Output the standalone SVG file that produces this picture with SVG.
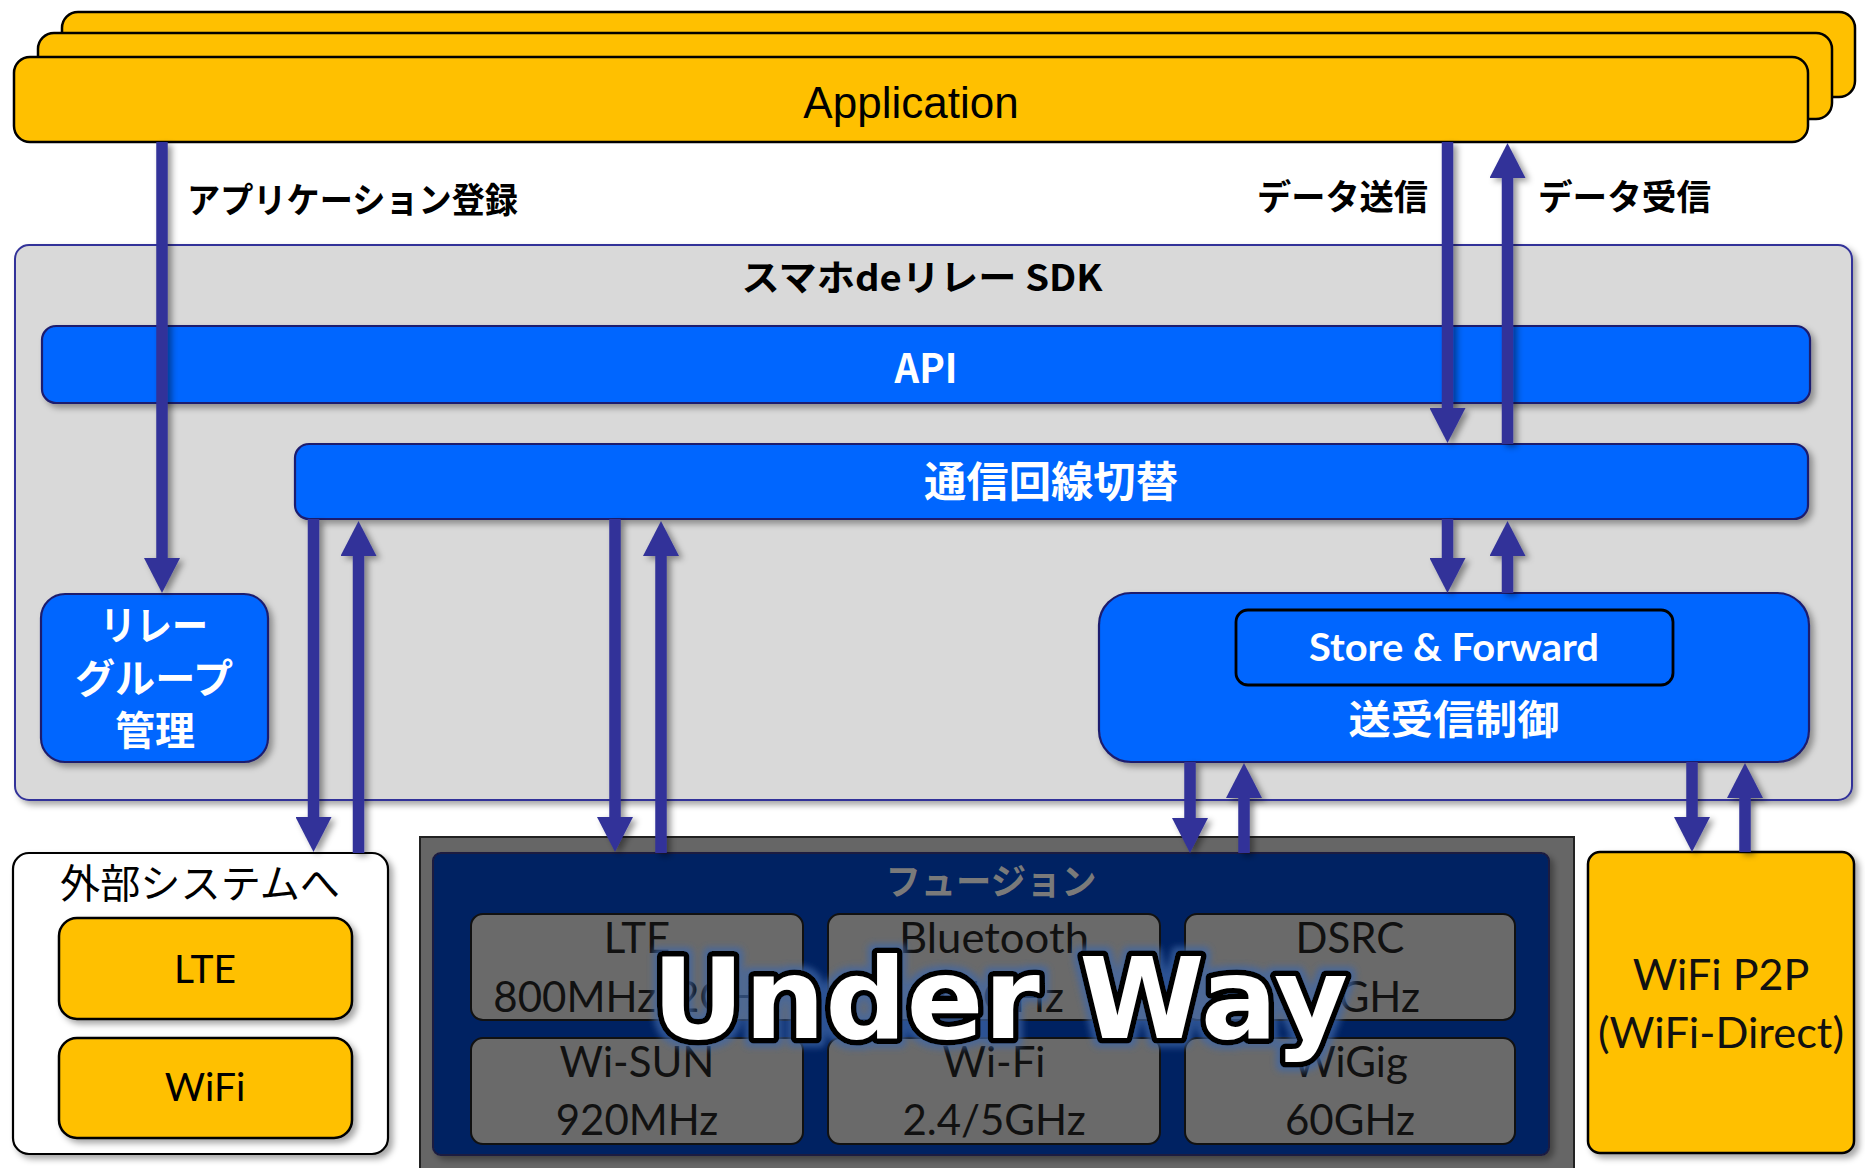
<svg xmlns="http://www.w3.org/2000/svg" width="1865" height="1168" viewBox="0 0 1865 1168">
<style>
.org{fill:#FFC000;stroke:#000;stroke-width:2.5}
.blu{fill:#0066FF;stroke:#1E1E6E;stroke-width:2.2}
.cell{fill:#6A6A6A;stroke:#111;stroke-width:2}
.jp{font-family:"Noto Sans CJK JP",sans-serif}
.lat{font-family:Lato,"Open Sans",sans-serif}
.wb{fill:#fff;font-weight:bold}
.ctr{text-anchor:middle}
.ct{font-family:Lato,"Open Sans",sans-serif;font-size:42px;fill:#111;text-anchor:middle}
.arr{stroke:#333399;stroke-width:11.5;fill:none}
</style>
<defs>
<filter id="sh" x="-5%" y="-5%" width="115%" height="130%">
<feDropShadow dx="4" dy="4" stdDeviation="3" flood-color="#000" flood-opacity="0.35"/>
</filter>
<filter id="ash" x="-100%" y="-5%" width="300%" height="115%">
<feDropShadow dx="4" dy="3" stdDeviation="3" flood-color="#000" flood-opacity="0.4"/>
</filter>
<filter id="glow" x="-10%" y="-30%" width="120%" height="160%">
<feMorphology in="SourceAlpha" operator="dilate" radius="4" result="d"/>
<feGaussianBlur in="d" stdDeviation="3" result="b"/>
<feFlood flood-color="#3F67A8" flood-opacity="0.7"/>
<feComposite in2="b" operator="in" result="g"/>
<feMerge><feMergeNode in="g"/><feMergeNode in="SourceGraphic"/></feMerge>
</filter>
<marker id="ah" markerUnits="userSpaceOnUse" markerWidth="36" markerHeight="36" refX="0" refY="18" orient="auto" viewBox="0 0 36 36">
<path d="M0,0 L35,18 L0,36 z" fill="#333399"/>
</marker>
</defs>

<g id="application">
<rect x="62" y="12" width="1793" height="85" rx="16" class="org"/>
<rect x="38" y="33" width="1794" height="86" rx="16" class="org"/>
<rect x="14" y="57" width="1794" height="85" rx="16" class="org"/>
<text x="911" y="118" font-family="Liberation Sans, Arial, sans-serif" font-size="44" text-anchor="middle" fill="#000">Application</text>
</g>

<g id="sdk">
<rect x="15" y="245" width="1837" height="555" rx="14" fill="#D9D9D9" stroke="#333399" stroke-width="2" filter="url(#sh)"/>
<text x="922" y="291" class="jp ctr" font-size="36" font-weight="bold" textLength="361" lengthAdjust="spacingAndGlyphs">スマホdeリレー SDK</text>
</g>

<g id="api">
<rect x="42" y="326" width="1768" height="77" rx="14" class="blu" filter="url(#sh)"/>
<text x="926" y="383" class="jp ctr wb" font-size="40" textLength="63" lengthAdjust="spacingAndGlyphs">API</text>
</g>

<g id="switch">
<rect x="295" y="444" width="1513" height="75" rx="14" class="blu" filter="url(#sh)"/>
<text x="1051" y="497" class="jp ctr wb" font-size="42" textLength="254" lengthAdjust="spacingAndGlyphs">通信回線切替</text>
</g>

<g id="relay-group">
<rect x="41" y="594" width="227" height="168" rx="24" class="blu" filter="url(#sh)"/>
<text x="154" y="640" class="jp ctr wb" font-size="40" textLength="108" lengthAdjust="spacingAndGlyphs">リレー</text>
<text x="154" y="693" class="jp ctr wb" font-size="40" textLength="158" lengthAdjust="spacingAndGlyphs">グループ</text>
<text x="155" y="745" class="jp ctr wb" font-size="40">管理</text>
</g>

<g id="store-forward">
<rect x="1099" y="593" width="710" height="169" rx="32" class="blu" filter="url(#sh)"/>
<rect x="1236" y="610" width="437" height="75" rx="12" fill="#0066FF" stroke="#000" stroke-width="2.8"/>
<text x="1454" y="661" class="lat ctr wb" font-size="38" textLength="290" lengthAdjust="spacingAndGlyphs">Store &amp; Forward</text>
<text x="1454" y="734" class="jp ctr wb" font-size="40" textLength="211" lengthAdjust="spacingAndGlyphs">送受信制御</text>
</g>

<g id="external">
<rect x="13" y="853" width="375" height="301" rx="16" fill="#fff" stroke="#000" stroke-width="2.2" filter="url(#sh)"/>
<text x="200" y="898" class="jp ctr" font-size="40" textLength="280" lengthAdjust="spacingAndGlyphs">外部システムへ</text>
<rect x="59" y="918" width="293" height="101" rx="18" class="org" filter="url(#sh)"/>
<text x="205" y="983" class="lat ctr" font-size="39" fill="#000">LTE</text>
<rect x="59" y="1038" width="293" height="100" rx="18" class="org" filter="url(#sh)"/>
<text x="205" y="1101" class="lat ctr" font-size="39" fill="#000">WiFi</text>
</g>

<g id="fusion">
<rect x="420" y="837" width="1154" height="345" fill="#666666" stroke="#222" stroke-width="2"/>
<rect x="433" y="853" width="1116" height="302" rx="8" fill="#002462" stroke="#1a1a40" stroke-width="2" filter="url(#sh)"/>
<text x="991" y="895" class="jp ctr" font-size="36" font-weight="bold" fill="#7A7A7A" textLength="211" lengthAdjust="spacingAndGlyphs">フュージョン</text>
<rect x="471" y="914" width="332" height="106" rx="12" class="cell"/>
<rect x="828" y="914" width="332" height="106" rx="12" class="cell"/>
<rect x="1185" y="914" width="330" height="106" rx="12" class="cell"/>
<rect x="471" y="1038" width="332" height="106" rx="12" class="cell"/>
<rect x="828" y="1038" width="332" height="106" rx="12" class="cell"/>
<rect x="1185" y="1038" width="330" height="106" rx="12" class="cell"/>
<text x="637" y="953" class="ct">LTE</text>
<text x="637" y="1012" class="ct">800MHz/2GHz</text>
<text x="994" y="953" class="ct" textLength="190" lengthAdjust="spacingAndGlyphs">Bluetooth</text>
<text x="994" y="1012" class="ct">2.4GHz</text>
<text x="1350" y="953" class="ct">DSRC</text>
<text x="1350" y="1012" class="ct">5.8GHz</text>
<text x="637" y="1077" class="ct">Wi-SUN</text>
<text x="637" y="1135" class="ct">920MHz</text>
<text x="994" y="1077" class="ct">Wi-Fi</text>
<text x="994" y="1135" class="ct">2.4/5GHz</text>
<text x="1350" y="1077" class="ct">WiGig</text>
<text x="1350" y="1135" class="ct">60GHz</text>
</g>

<g id="wifi-p2p">
<rect x="1588" y="852" width="266" height="301" rx="12" class="org" filter="url(#sh)"/>
<text x="1721" y="990" class="ct" font-size="43" fill="#000" style="font-size:43px">WiFi P2P</text>
<text x="1721" y="1048" class="ct" fill="#000" style="font-size:43px" textLength="246" lengthAdjust="spacingAndGlyphs">(WiFi-Direct)</text>
</g>

<g id="connectors" class="arr" filter="url(#ash)">
<line x1="162" y1="142" x2="162" y2="558" marker-end="url(#ah)"/>
<line x1="1447.5" y1="142" x2="1447.5" y2="408" marker-end="url(#ah)"/>
<line x1="1507.5" y1="444" x2="1507.5" y2="178" marker-end="url(#ah)"/>
<line x1="1447.5" y1="519" x2="1447.5" y2="558" marker-end="url(#ah)"/>
<line x1="1507.5" y1="593" x2="1507.5" y2="556" marker-end="url(#ah)"/>
<line x1="313.5" y1="519" x2="313.5" y2="817" marker-end="url(#ah)"/>
<line x1="358.5" y1="853" x2="358.5" y2="556" marker-end="url(#ah)"/>
<line x1="615" y1="519" x2="615" y2="817" marker-end="url(#ah)"/>
<line x1="661" y1="853" x2="661" y2="556" marker-end="url(#ah)"/>
<line x1="1190" y1="762" x2="1190" y2="818" marker-end="url(#ah)"/>
<line x1="1244" y1="853" x2="1244" y2="798" marker-end="url(#ah)"/>
<line x1="1692" y1="762" x2="1692" y2="817" marker-end="url(#ah)"/>
<line x1="1745" y1="852" x2="1745" y2="798" marker-end="url(#ah)"/>
</g>

<g id="labels" class="jp" font-weight="bold" fill="#000">
<text x="187" y="213" font-size="35" textLength="331" lengthAdjust="spacingAndGlyphs">アプリケーション登録</text>
<text x="1428" y="210" font-size="35" text-anchor="end" textLength="171" lengthAdjust="spacingAndGlyphs">データ送信</text>
<text x="1538" y="210" font-size="35" textLength="173" lengthAdjust="spacingAndGlyphs">データ受信</text>
</g>

<g id="under-way">
<text x="1000" y="1038" font-family="DejaVu Sans, sans-serif" font-weight="bold" font-size="113" text-anchor="middle" fill="#fff" stroke="#000" stroke-width="11" stroke-linejoin="round" paint-order="stroke" filter="url(#glow)" textLength="696" lengthAdjust="spacingAndGlyphs">Under Way</text>
</g>
</svg>
